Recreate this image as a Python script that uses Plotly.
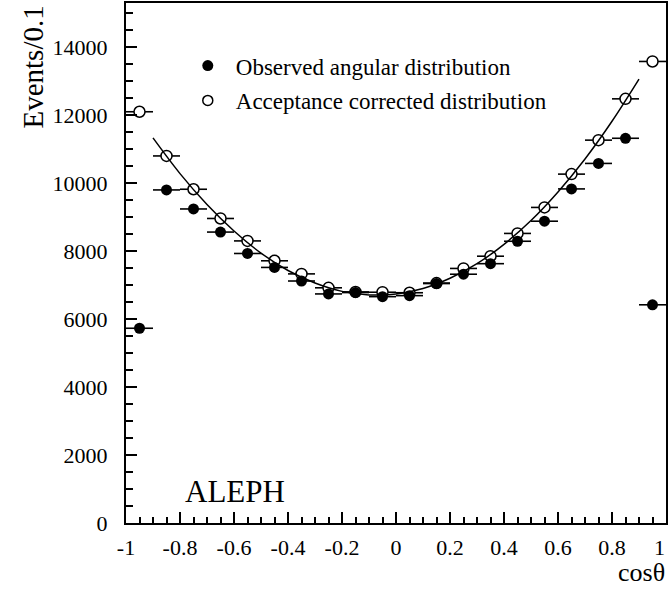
import plotly.graph_objects as go

# ---- data ----
cos_theta = [-0.95, -0.85, -0.75, -0.65, -0.55, -0.45, -0.35, -0.25, -0.15, -0.05,
             0.05, 0.15, 0.25, 0.35, 0.45, 0.55, 0.65, 0.75, 0.85, 0.95]
bin_half_width = [0.05] * 20
observed = [5730, 9800, 9240, 8560, 7930, 7520, 7120, 6740, 6780, 6660,
            6690, 7045, 7320, 7630, 8290, 8880, 9830, 10580, 11320, 6420]
corrected = [12100, 10800, 9820, 8960, 8300, 7715, 7330, 6920, 6800, 6790,
             6775, 7060, 7490, 7850, 8520, 9285, 10265, 11265, 12480, 13580]

fit_x = [-0.9, -0.8, -0.7, -0.6, -0.5, -0.4, -0.3, -0.2, -0.1, 0.0,
         0.1, 0.2, 0.3, 0.4, 0.5, 0.6, 0.7, 0.8, 0.9]
fit_y = [11330, 10280, 9370, 8590, 7940, 7430, 7060, 6815, 6710, 6740,
         6900, 7200, 7630, 8200, 8900, 9740, 10710, 11820, 13060]

x_ticks = [-1, -0.8, -0.6, -0.4, -0.2, 0, 0.2, 0.4, 0.6, 0.8, 1]
x_tick_text = ["-1", "-0.8", "-0.6", "-0.4", "-0.2", "0", "0.2", "0.4", "0.6", "0.8", ""]
x_last_label = "1"
y_ticks = [0, 2000, 4000, 6000, 8000, 10000, 12000, 14000]
y_tick_text = ["0", "2000", "4000", "6000", "8000", "10000", "12000", "14000"]

FONT = "Liberation Serif"

fig = go.Figure()

# acceptance corrected (open circles)
fig.add_trace(go.Scatter(
    x=cos_theta, y=corrected, mode="markers", showlegend=False,
    marker=dict(symbol="circle", size=11, color="white",
                line=dict(color="black", width=1.5)),
    error_x=dict(type="data", array=bin_half_width, width=0, thickness=1.6, color="black"),
))
# observed (filled circles)
fig.add_trace(go.Scatter(
    x=cos_theta, y=observed, mode="markers", showlegend=False,
    marker=dict(symbol="circle", size=11, color="black",
                line=dict(color="black", width=0)),
    error_x=dict(type="data", array=bin_half_width, width=0, thickness=1.6, color="black"),
))
# fit curve
fig.add_trace(go.Scatter(
    x=fit_x, y=fit_y, mode="lines", showlegend=False,
    line=dict(color="black", width=1.5, shape="spline"),
))

# legend entries
fig.add_trace(go.Scatter(
    x=[None], y=[None], mode="markers", name="Observed angular distribution",
    legendgroup="a",
    marker=dict(symbol="circle", size=11, color="black"),
))
fig.add_trace(go.Scatter(
    x=[None], y=[None], mode="markers", name="Acceptance corrected distribution",
    legendgroup="b",
    marker=dict(symbol="circle", size=10, color="white", line=dict(color="black", width=1.5)),
))

fig.update_layout(
    width=669, height=589,
    margin=dict(l=126, r=1, t=3, b=66),
    paper_bgcolor="white", plot_bgcolor="white",
    font=dict(family=FONT, size=22, color="black"),
    showlegend=True,
    legend=dict(x=0.0996, y=0.921, xanchor="left", yanchor="top",
                bgcolor="rgba(0,0,0,0)", borderwidth=0,
                font=dict(family=FONT, size=23, color="black"),
                itemwidth=46, tracegroupgap=2),
    xaxis=dict(range=[-1, 1], tickvals=x_ticks, ticktext=x_tick_text,
               ticks="inside", ticklen=11, tickwidth=1.5, tickcolor="black",
               minor=dict(dtick=0.05, ticks="inside", ticklen=6, tickwidth=1.5, tickcolor="black"),
               showgrid=False, zeroline=False, showline=True, linecolor="black",
               linewidth=2, mirror=True, ticklabelstandoff=4,
               tickfont=dict(family=FONT, size=22)),
    yaxis=dict(range=[0, 15300], tickvals=y_ticks, ticktext=y_tick_text,
               ticks="inside", ticklen=11, tickwidth=1.5, tickcolor="black",
               minor=dict(dtick=500, ticks="inside", ticklen=7, tickwidth=1.5, tickcolor="black"),
               showgrid=False, zeroline=False, showline=True, linecolor="black",
               linewidth=2, mirror=True, ticklabelstandoff=12,
               tickfont=dict(family=FONT, size=22)),
    annotations=[
        dict(text=x_last_label, xref="paper", yref="paper", x=1.002, y=-0.048,
             xanchor="right", yanchor="middle", showarrow=False,
             font=dict(family=FONT, size=22)),
        dict(text="ALEPH", xref="paper", yref="paper", x=0.105, y=0.06,
             xanchor="left", yanchor="middle", showarrow=False,
             font=dict(family=FONT, size=31)),
        dict(text="Events/0.1", xref="paper", yref="paper", x=-0.173, y=0.877,
             xanchor="center", yanchor="middle", textangle=-90, showarrow=False,
             font=dict(family=FONT, size=29)),
        dict(text="cosθ", xref="paper", yref="paper", x=1.002, y=-0.096,
             xanchor="right", yanchor="middle", showarrow=False,
             font=dict(family=FONT, size=26)),
    ],
)

fig.write_html("out.html", config={"displayModeBar": False},
               post_script="document.body.style.margin='0';")
